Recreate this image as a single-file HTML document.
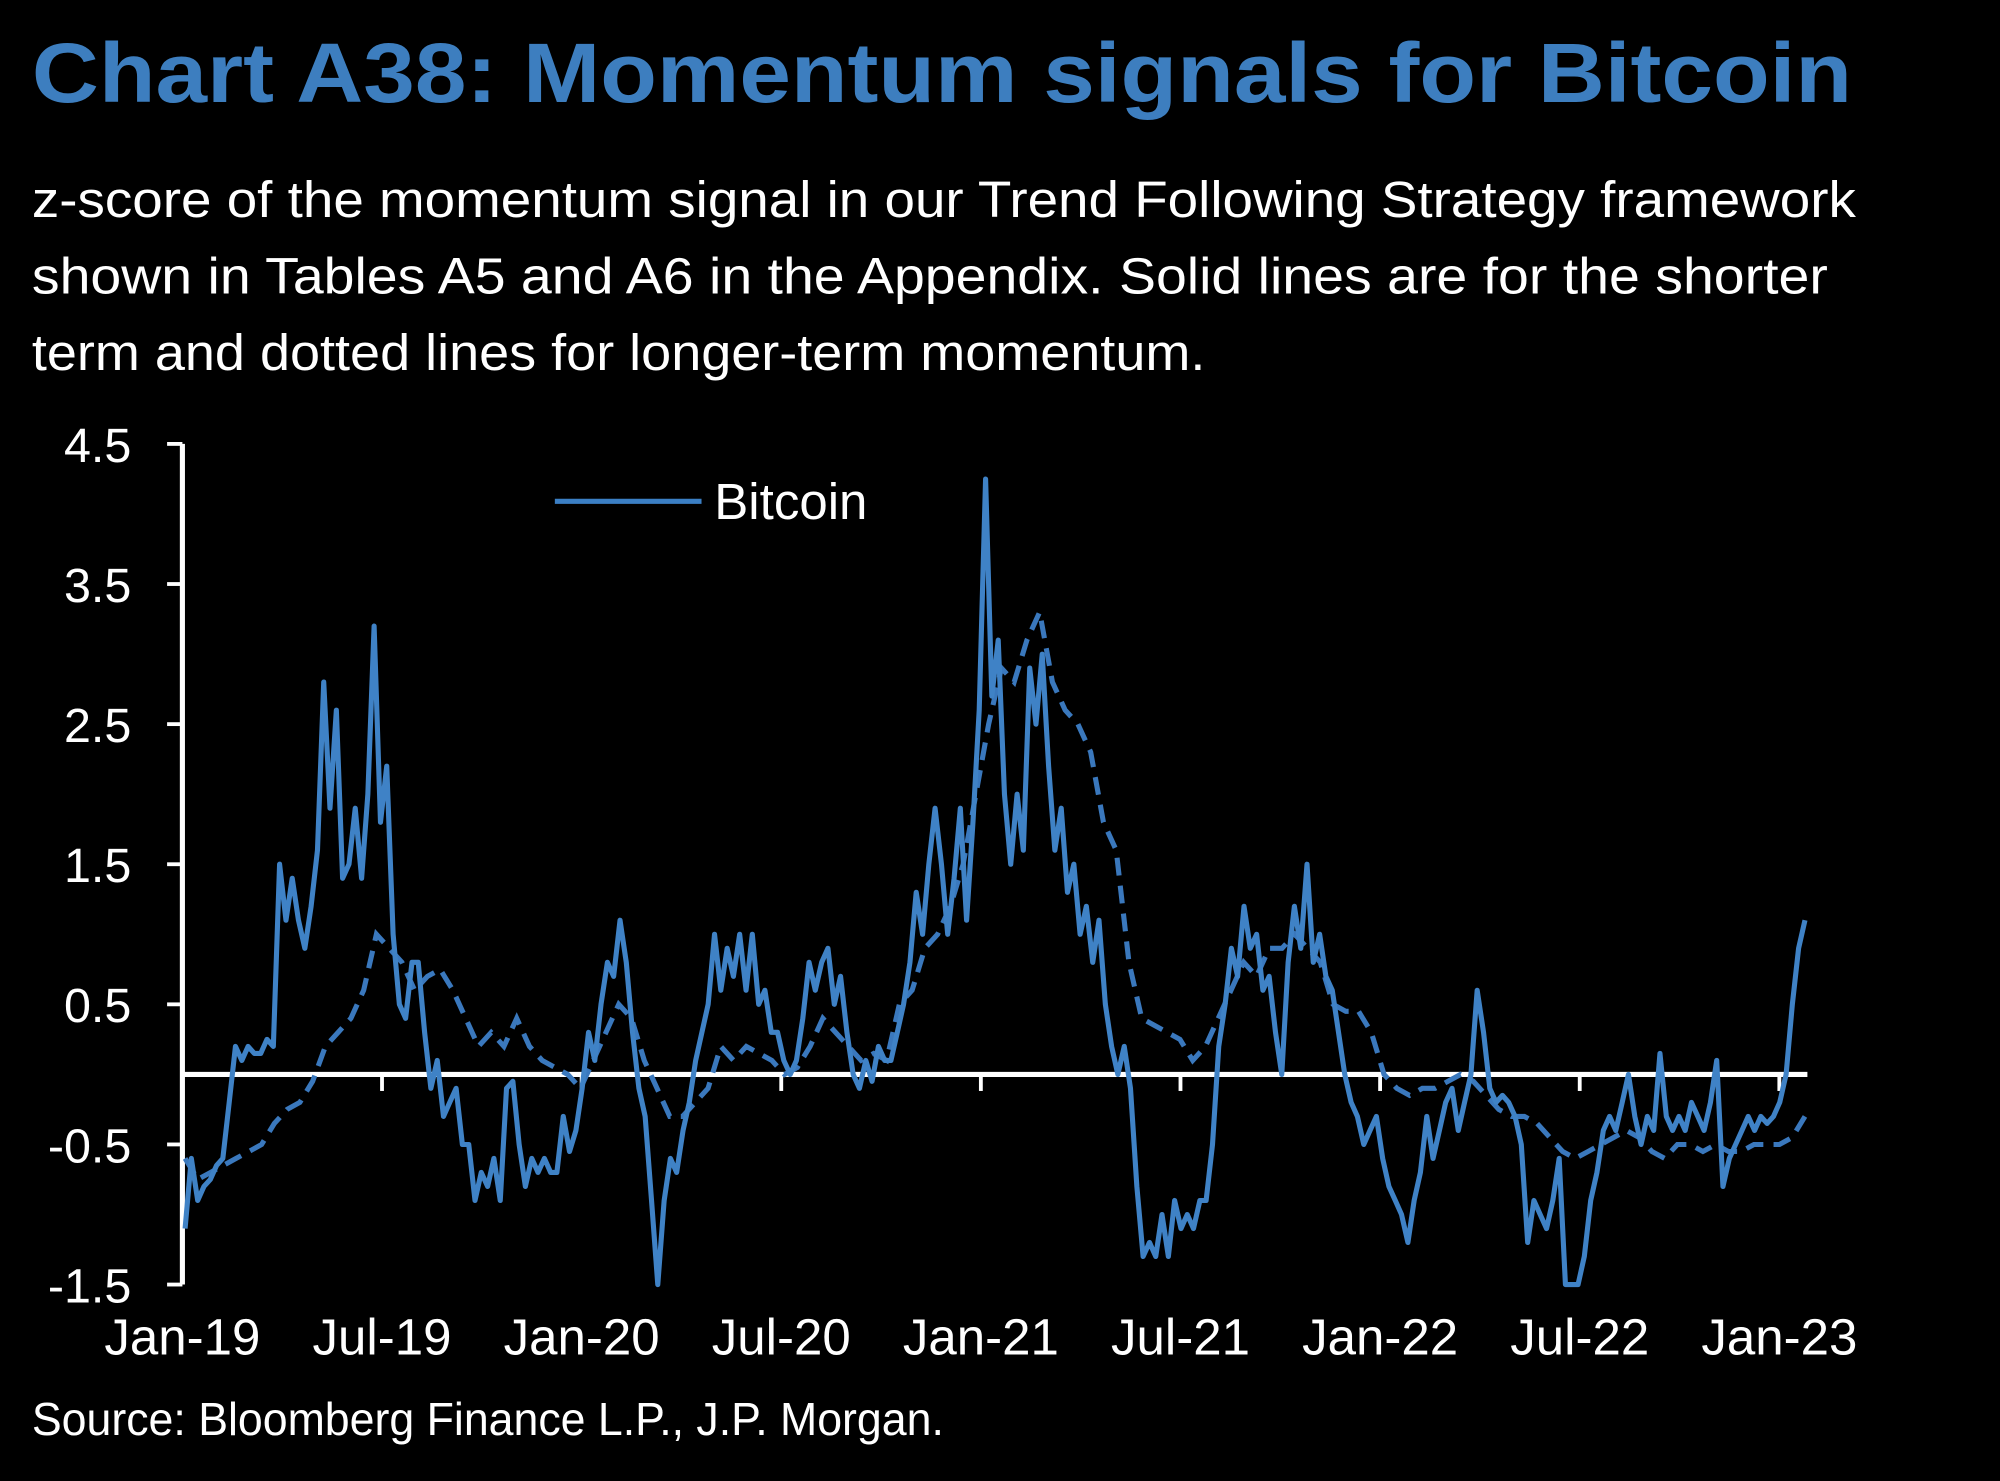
<!DOCTYPE html>
<html><head><meta charset="utf-8"><style>
html,body{margin:0;padding:0;background:#000;}
svg{display:block;}
text{font-family:"Liberation Sans",sans-serif;}
</style></head><body>
<svg id="chart" width="2000" height="1481" viewBox="0 0 1568 1161" preserveAspectRatio="none" xmlns="http://www.w3.org/2000/svg">
<rect width="1568" height="1161" fill="#000"/>
<text x="25" y="80" font-size="66" font-weight="bold" fill="#3d7ebf" textLength="1427" lengthAdjust="spacingAndGlyphs">Chart A38: Momentum signals for Bitcoin</text>
<g fill="#fff" font-size="40">
<text x="25" y="170" textLength="1430" lengthAdjust="spacingAndGlyphs">z-score of the momentum signal in our Trend Following Strategy framework</text>
<text x="25" y="230" textLength="1408" lengthAdjust="spacingAndGlyphs">shown in Tables A5 and A6 in the Appendix. Solid lines are for the shorter</text>
<text x="25" y="290" textLength="920" lengthAdjust="spacingAndGlyphs">term and dotted lines for longer-term momentum.</text>
</g>
<g id="axes"></g>
<g id="series"></g>
<g>
<line x1="435" y1="393" x2="550" y2="393" stroke="#3b7fc4" stroke-width="4"/>
<text x="560" y="407" font-size="40" fill="#fff">Bitcoin</text>
</g>
<text x="25" y="1125" font-size="36" fill="#fff" textLength="715" lengthAdjust="spacingAndGlyphs">Source: Bloomberg Finance L.P., J.P. Morgan.</text>
</svg>
<script>
const yTicks=[4.5,3.5,2.5,1.5,0.5,-0.5,-1.5];
const xLabels=["Jan-19","Jul-19","Jan-20","Jul-20","Jan-21","Jul-21","Jan-22","Jul-22","Jan-23"];
const xLabelMonths=[0,6,12,18,24,30,36,42,48];
const seriesStartMonth=0.08;
const seriesEndMonth=48.77;
const shortTerm=[-1.1,-0.6,-0.9,-0.8,-0.75,-0.65,-0.6,-0.2,0.2,0.1,0.2,0.15,0.15,0.25,0.2,1.5,1.1,1.4,1.1,0.9,1.2,1.6,2.8,1.9,2.6,1.4,1.5,1.9,1.4,2.0,3.2,1.8,2.2,1.0,0.5,0.4,0.8,0.8,0.3,-0.1,
0.1,-0.3,-0.2,-0.1,-0.5,-0.5,-0.9,-0.7,-0.8,-0.6,-0.9,-0.1,-0.05,-0.5,-0.8,-0.6,-0.7,-0.6,-0.7,-0.7,-0.3,-0.55,-0.4,-0.1,0.3,0.1,0.5,0.8,0.7,1.1,0.8,0.3,-0.1,-0.3,-0.9,-1.5,-0.9,-0.6,-0.7,-0.4,-0.2,0.1,0.3,0.5,1.0,0.6,0.9,0.7,1.0,0.6,1.0,0.5,0.6,0.3,0.3,0.1,0.0,0.1,0.4,0.8,0.6,0.8,0.9,0.5,0.7,0.3,0.0,-0.1,0.1,-0.05,0.2,0.1,0.1,0.3,0.5,0.8,1.3,1.0,1.5,1.9,1.5,1.0,1.4,1.9,1.1,1.8,2.6,4.25,2.7,3.1,2.0,1.5,2.0,1.6,2.9,2.5,3.0,2.2,1.6,1.9,1.3,1.5,1.0,1.2,0.8,1.1,0.5,0.2,0.0,0.2,-0.1,-0.8,-1.3,-1.2,-1.3,-1.0,-1.3,-0.9,-1.1,-1.0,-1.1,-0.9,-0.9,-0.5,0.2,0.5,0.9,0.7,1.2,0.9,1.0,0.6,0.7,0.3,0.0,0.8,1.2,0.9,1.5,0.8,1.0,0.7,0.6,0.3,0.0,-0.2,-0.3,-0.5,-0.4,-0.3,-0.6,-0.8,-0.9,-1.0,-1.2,-0.9,-0.7,-0.3,-0.6,-0.4,-0.2,-0.1,-0.4,-0.2,0.0,0.6,0.3,-0.1,-0.2,-0.15,-0.2,-0.3,-0.5,-1.2,-0.9,-1.0,-1.1,-0.9,-0.6,-1.5,-1.5,-1.5,-1.3,-0.9,-0.7,-0.4,-0.3,-0.4,-0.2,0.0,-0.3,-0.5,-0.3,-0.4,0.15,-0.3,-0.4,-0.3,-0.4,-0.2,-0.3,-0.4,-0.2,0.1,-0.8,-0.6,-0.5,-0.4,-0.3,-0.4,-0.3,-0.35,-0.3,-0.2,0.0,0.5,0.9,1.1];
const longTerm=[-0.6,-0.75,-0.7,-0.65,-0.6,-0.55,-0.5,-0.35,-0.25,-0.2,-0.05,0.2,0.3,0.4,0.6,1.0,0.9,0.8,0.6,0.7,0.75,0.6,0.4,0.2,0.3,0.2,0.4,0.2,0.1,0.05,0.0,-0.1,0.1,0.3,0.5,0.4,0.1,-0.1,-0.3,-0.3,-0.2,-0.1,0.2,0.1,0.2,0.15,0.1,0.0,0.05,0.2,0.4,0.3,0.2,0.1,0.15,0.1,0.5,0.6,0.9,1.0,1.2,1.5,2.0,2.5,2.9,2.8,3.1,3.3,2.8,2.6,2.5,2.3,1.8,1.6,0.8,0.4,0.35,0.3,0.25,0.1,0.2,0.4,0.6,0.8,0.7,0.9,0.9,1.0,0.9,0.8,0.5,0.45,0.45,0.3,0.0,-0.1,-0.15,-0.1,-0.1,-0.05,0.0,-0.05,-0.15,-0.25,-0.3,-0.3,-0.35,-0.45,-0.55,-0.6,-0.55,-0.5,-0.45,-0.4,-0.45,-0.55,-0.6,-0.5,-0.5,-0.55,-0.5,-0.55,-0.55,-0.5,-0.5,-0.5,-0.45,-0.3];

const NS="http://www.w3.org/2000/svg";
const X0=143,X1=1395,Y0=1007,Y1=348,YMIN=-1.5,YMAX=4.5;
function xScale(m){return X0+(m/48)*(X1-X0);}
function yScale(v){return Y0-(v-YMIN)/(YMAX-YMIN)*(Y0-Y1);}
function mk(tag,attrs,parent){const e=document.createElementNS(NS,tag);for(const k in attrs)e.setAttribute(k,attrs[k]);parent.appendChild(e);return e;}
const axes=document.getElementById('axes');
const ya=mk('line',{x1:X0,y1:Y1,x2:X0,y2:Y0,stroke:'#fff','stroke-width':4},axes);


yTicks.forEach(v=>{
  const t=mk('line',{x1:X0-12,y1:yScale(v),x2:X0,y2:yScale(v),stroke:'#fff','stroke-width':3},axes);
  
  
  const l=mk('text',{x:103,y:yScale(v)+14,'text-anchor':'end','font-size':38,fill:'#fff'},axes);
  l.textContent=v.toFixed(1);
  
  
});
const zl=mk('line',{x1:X0,y1:yScale(0),x2:1417,y2:yScale(0),stroke:'#fff','stroke-width':4},axes);


xLabels.forEach((s,i)=>{
  const x=xScale(xLabelMonths[i]);
  const t=mk('line',{x1:x,y1:yScale(0),x2:x,y2:yScale(0)+13,stroke:'#fff','stroke-width':3},axes);
  
  
  const l=mk('text',{x:x,y:1062,'text-anchor':'middle','font-size':40,fill:'#fff'},axes);
  l.textContent=s;
  
  
});
function pathFor(vals){
  const step=(seriesEndMonth-seriesStartMonth)/(vals.length-1);
  return vals.map((v,i)=>(i?'L':'M')+xScale(seriesStartMonth+i*step).toFixed(1)+','+yScale(v).toFixed(1)).join(' ');
}
const sg=document.getElementById('series');
const lp=mk('path',{d:pathFor(longTerm),fill:'none',stroke:'#3a78bd','stroke-width':4,'stroke-dasharray':'14 8'},sg);


const sp=mk('path',{d:pathFor(shortTerm),fill:'none',stroke:'#3f82c6','stroke-width':4,'stroke-linejoin':'round'},sg);


</script>
</body></html>
